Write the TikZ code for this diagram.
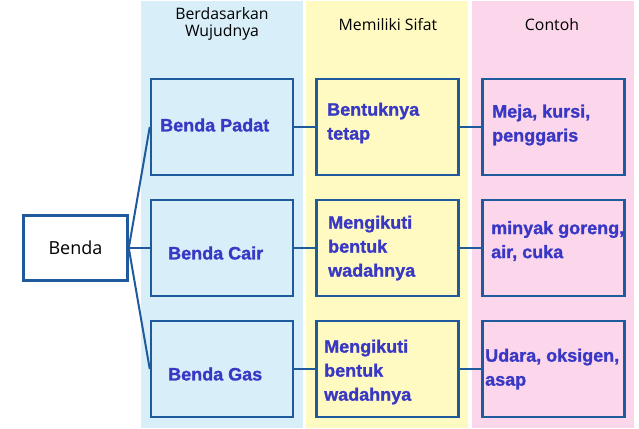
\documentclass[tikz,border=0pt]{standalone}
\usepackage{fontspec}
\setmainfont{Liberation Sans}[BoldFeatures={FakeBold=1.2}]
\newfontfamily\judul{Open Sans}

\definecolor{latarbiru}{HTML}{D8EFFA}
\definecolor{latarkuning}{HTML}{FFFAC2}
\definecolor{latarmerah}{HTML}{FCD6EB}
\definecolor{garis}{HTML}{1F5A9C}
\definecolor{teks}{HTML}{3838C4}

\tikzset{
  kotak/.style={draw=garis, line width=2.5pt, minimum width=142pt, minimum height=96pt, inner sep=0pt},
  isi/.style={anchor=west, align=left, inner sep=0pt, text=teks, font=\fontsize{18}{24}\selectfont\bfseries},
  kepala/.style={align=center, inner sep=0pt, text=black, font=\judul\fontsize{15.8}{17}\selectfont},
  sambung/.style={draw=garis, line width=2pt}
}

\begin{document}
\begin{tikzpicture}[x=1pt, y=-1pt]
 \useasboundingbox (0,0) rectangle (639,428);

 % --- KOLOM LATAR ---
 \fill[latarbiru] (141,1) rectangle (303,428);
 \fill[latarkuning] (306,1) rectangle (468,428);
 \fill[latarmerah] (472,1) rectangle (634,428);

 % --- JUDUL KOLOM ---
 \node[kepala] (judulwujud) at (222,24) {Berdasarkan\\Wujudnya};
 \node[kepala] (judulsifat) at (388,25) {Memiliki Sifat};
 \node[kepala] (juduncontoh) at (552,25) {Contoh};

 % --- KOTAK UTAMA ---
 \node[kotak, fill=white, minimum width=104pt, minimum height=65pt,
       font=\judul\fontsize{18}{20}\selectfont] (benda) at (75.5,248) {Benda};

 % Kolom wujud
 \node[kotak, fill=latarbiru] (padat) at (222,127) {};
 \node[kotak, fill=latarbiru] (cair) at (222,248) {};
 \node[kotak, fill=latarbiru] (gas) at (222,369) {};

 % Kolom sifat
 \node[kotak, fill=latarkuning] (sifatpadat) at (387.5,127) {};
 \node[kotak, fill=latarkuning] (sifatcair) at (387.5,248) {};
 \node[kotak, fill=latarkuning] (sifatgas) at (387.5,369) {};

 % Kolom contoh
 \node[kotak, fill=latarmerah] (contohpadat) at (553.5,127) {};
 \node[kotak, fill=latarmerah] (contohcair) at (553.5,248) {};
 \node[kotak, fill=latarmerah] (contohgas) at (553.5,369) {};

 % --- GARIS PENGHUBUNG ---
 \draw[sambung] (benda.east) -- (padat.west);
 \draw[sambung] (benda.east) -- (cair.west);
 \draw[sambung] (benda.east) -- (gas.west);

 \draw[sambung] (padat.east) -- (sifatpadat.west);
 \draw[sambung] (cair.east) -- (sifatcair.west);
 \draw[sambung] (gas.east) -- (sifatgas.west);

 \draw[sambung] (sifatpadat.east) -- (contohpadat.west);
 \draw[sambung] (sifatcair.east) -- (contohcair.west);
 \draw[sambung] (sifatgas.east) -- (contohgas.west);

 % --- ISI KOTAK ---
 \node[isi] (tpadat) at (160,125) {Benda Padat};
 \node[isi] (tcair) at (168,253) {Benda Cair};
 \node[isi] (tgas) at (168,374) {Benda Gas};

 \node[isi] (tsifatpadat) at (327,123) {Bentuknya\\tetap};
 \node[isi] (tsifatcair) at (328,248) {Mengikuti\\bentuk\\wadahnya};
 \node[isi] (tsifatgas) at (324,372) {Mengikuti\\bentuk\\wadahnya};

 \node[isi] (tcontohpadat) at (492,125) {Meja, kursi,\\penggaris};
 \node[isi] (tcontohcair) at (491,241) {minyak goreng,\\air, cuka};
 \node[isi] (tcontohgas) at (485,369) {Udara, oksigen,\\asap};

\end{tikzpicture}
\end{document}
